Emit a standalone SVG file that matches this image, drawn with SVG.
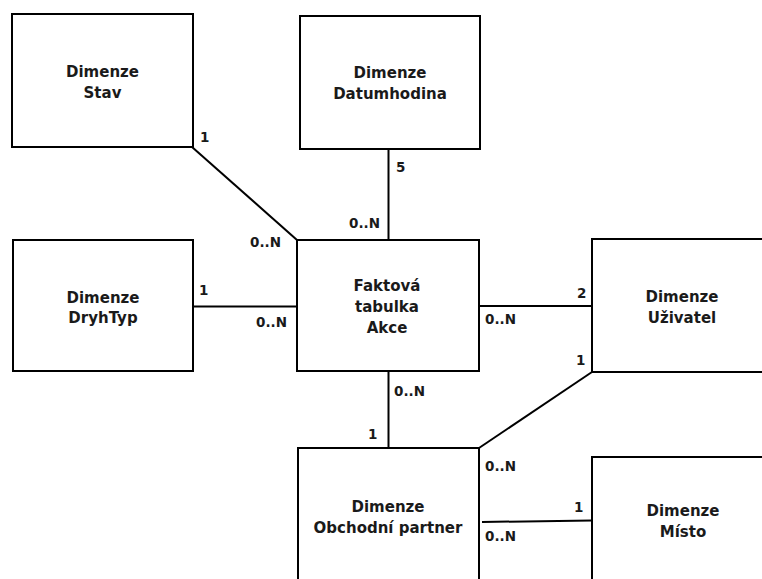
<svg xmlns="http://www.w3.org/2000/svg" width="762" height="579" viewBox="0 0 762 579">
<style>
.box{fill:#fff;stroke:#000;stroke-width:2}
.ln{stroke:#000;stroke-width:2;fill:none}
.t{font-family:"DejaVu Sans",Verdana,sans-serif;font-weight:bold;font-size:15px;fill:#1a1a1a;text-anchor:middle}
.c{font-family:"DejaVu Sans",Verdana,sans-serif;font-weight:bold;font-size:13.5px;fill:#1a1a1a}
</style>
<rect width="762" height="579" fill="#fff"/>
<g id="connectors">
<line class="ln" x1="192" y1="147" x2="297" y2="240"/>
<line class="ln" x1="388.5" y1="149" x2="388.5" y2="240"/>
<line class="ln" x1="193" y1="306.5" x2="297" y2="306.5"/>
<line class="ln" x1="479" y1="306" x2="592" y2="306"/>
<line class="ln" x1="388.5" y1="371" x2="388.5" y2="448"/>
<line class="ln" x1="479" y1="448" x2="592" y2="372"/>
<line class="ln" x1="482" y1="522" x2="592" y2="520.5"/>
</g>
<g id="labels">
<text class="c" x="200" y="142">1</text>
<text class="c" x="250" y="247">0..N</text>
<text class="c" x="396" y="172">5</text>
<text class="c" x="349" y="228">0..N</text>
<text class="c" x="199" y="295">1</text>
<text class="c" x="256" y="327">0..N</text>
<text class="c" x="485" y="324">0..N</text>
<text class="c" x="577" y="298">2</text>
<text class="c" x="576" y="365">1</text>
<text class="c" x="394" y="396">0..N</text>
<text class="c" x="368" y="439">1</text>
<text class="c" x="485" y="471">0..N</text>
<text class="c" x="574" y="512">1</text>
<text class="c" x="485" y="541">0..N</text>
</g>
<g id="stav">
<rect class="box" x="12" y="14" width="181" height="133"/>
<text class="t" x="102.5" y="77">Dimenze</text>
<text class="t" x="102.5" y="98">Stav</text>
</g>
<g id="datumhodina">
<rect class="box" x="300" y="16" width="180" height="133"/>
<text class="t" x="390" y="78">Dimenze</text>
<text class="t" x="390" y="99">Datumhodina</text>
</g>
<g id="fakt">
<rect class="box" x="297" y="240" width="182" height="131"/>
<text class="t" x="387" y="291">Faktová</text>
<text class="t" x="387" y="312">tabulka</text>
<text class="t" x="387" y="333">Akce</text>
</g>
<g id="dryhtyp">
<rect class="box" x="13" y="240" width="180" height="131"/>
<text class="t" x="103" y="302.5">Dimenze</text>
<text class="t" x="103" y="323">DryhTyp</text>
</g>
<g id="uzivatel">
<rect class="box" x="592" y="239" width="180" height="133"/>
<text class="t" x="682" y="301.5">Dimenze</text>
<text class="t" x="682" y="322.5">Uživatel</text>
</g>
<g id="obchodni">
<rect class="box" x="298" y="448" width="181" height="140"/>
<text class="t" x="388" y="511.5">Dimenze</text>
<text class="t" x="388" y="532.5">Obchodní partner</text>
</g>
<g id="misto">
<rect class="box" x="592" y="457" width="180" height="140"/>
<text class="t" x="683" y="515.5">Dimenze</text>
<text class="t" x="683" y="536.5">Místo</text>
</g>
</svg>
